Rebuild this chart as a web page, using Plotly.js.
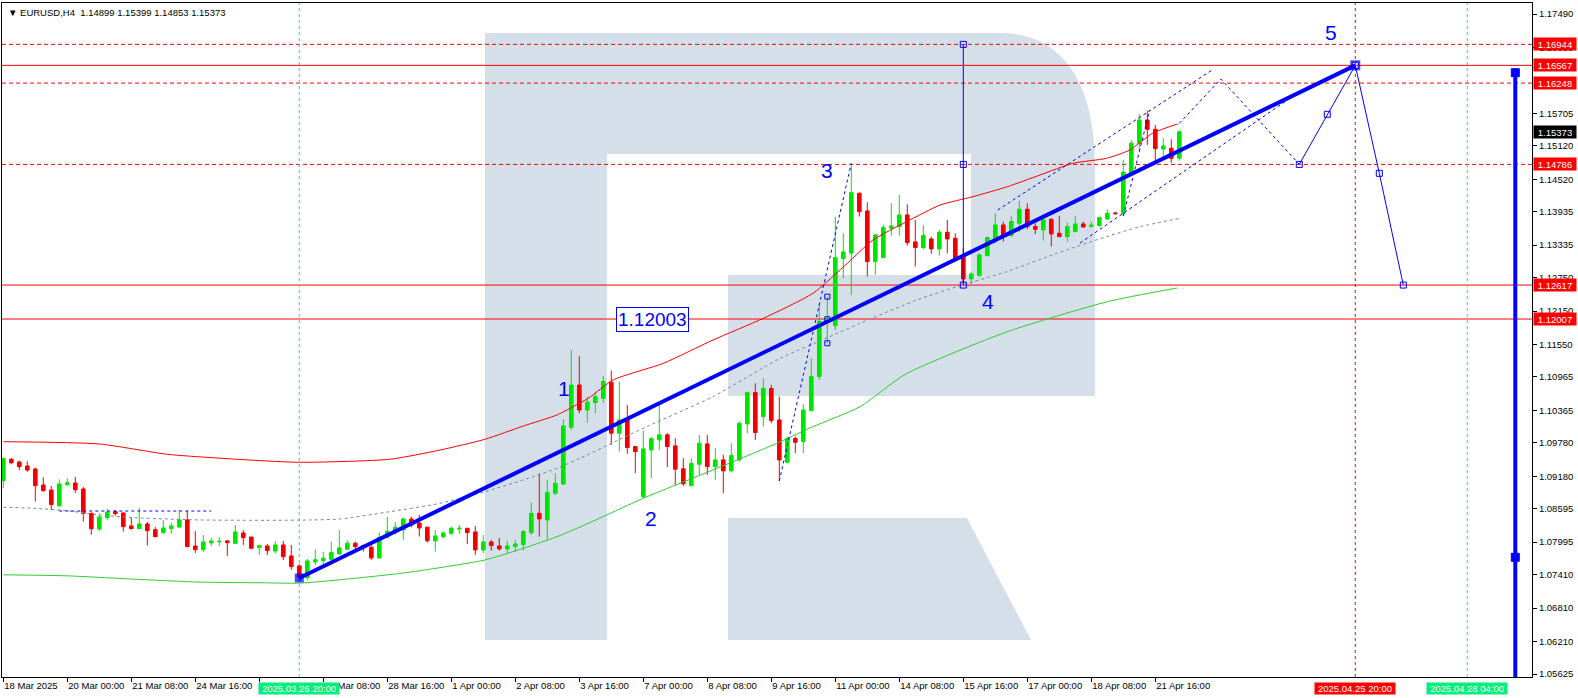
<!DOCTYPE html>
<html>
<head>
<meta charset="utf-8">
<script src="https://cdn.plot.ly/plotly-3.0.1.min.js"></script>
<style>html,body{margin:0;padding:0;background:#fff;}#chart{width:1578px;height:698px;}</style>
</head>
<body>
<div id="chart"></div>
<script>
// ---------------- DATA ----------------
const symbol = "EURUSD,H4";
const opens = [1.09101,1.09484,1.09436,1.09364,1.09310,1.09023,1.08933,1.08651,1.09029,1.09059,
1.08951,1.08514,1.08232,1.08436,1.08544,1.08520,1.08286,1.08238,1.08322,1.08220,
1.08166,1.08238,1.08268,1.08394,1.07927,1.07861,1.07981,1.08005,1.08017,1.07975,
1.08160,1.08088,1.07897,1.07927,1.07837,1.07945,1.07747,1.07567,1.07358,1.07640,
1.07660,1.07688,1.07784,1.07868,1.07976,1.07934,1.07904,1.07712,1.08083,1.08167,
1.08215,1.08412,1.08340,1.08263,1.08017,1.08095,1.08155,1.08233,1.08245,1.08179,
1.07856,1.07999,1.07928,1.07874,1.07916,1.07952,1.08167,1.08514,1.08394,1.08874,
1.09041,1.10060,1.10820,1.10371,1.10505,1.10583,1.10870,1.09954,1.10205,1.09714,
1.08815,1.09654,1.09834,1.09924,1.09726,1.09313,1.09013,1.09396,1.09762,1.09354,
1.09474,1.09277,1.09474,1.10121,1.10684,1.10253,1.10756,1.10193,1.09432,1.09858,
1.09804,1.10361,1.10972,1.11990,1.11888,1.13092,1.13194,1.14267,1.13950,1.13039,
1.13111,1.13638,1.13668,1.13878,1.13393,1.13291,1.13446,1.13267,1.13566,1.13458,
1.13129,1.12728,1.12788,1.13147,1.13416,1.13698,1.13506,1.13728,1.13980,1.13668,
1.13608,1.13800,1.13548,1.13488,1.13578,1.13716,1.13674,1.13686,1.13806,1.13914,
1.13908,1.14626,1.15166,1.15585,1.15417,1.15064,1.15076,1.14899];
const highs = [1.09511,1.09508,1.09460,1.09448,1.09334,1.09161,1.09005,1.09125,1.09143,1.09167,
1.08987,1.08526,1.08514,1.08592,1.08574,1.08532,1.08448,1.08610,1.08358,1.08268,
1.08394,1.08340,1.08574,1.08562,1.08196,1.08124,1.08071,1.08088,1.08035,1.08304,
1.08214,1.08088,1.07951,1.07963,1.08017,1.08017,1.07945,1.07603,1.07693,1.07868,
1.07820,1.08005,1.08215,1.08035,1.08005,1.07952,1.07934,1.08167,1.08454,1.08358,
1.08436,1.08454,1.08484,1.08275,1.08215,1.08185,1.08275,1.08305,1.08250,1.08287,
1.08125,1.08035,1.08071,1.08017,1.08035,1.08215,1.08712,1.09233,1.09113,1.09233,
1.10203,1.11449,1.11341,1.10611,1.10702,1.10984,1.11079,1.10882,1.10463,1.09714,
1.10001,1.09882,1.10493,1.09954,1.09864,1.09504,1.09504,1.09924,1.09924,1.09684,
1.09564,1.09774,1.10163,1.10702,1.10852,1.10942,1.10822,1.10613,1.09894,1.09894,
1.10481,1.11301,1.12278,1.12409,1.13847,1.13548,1.14805,1.14280,1.14105,1.13536,
1.13698,1.14087,1.14237,1.14069,1.13788,1.13698,1.13488,1.13608,1.13788,1.13548,
1.13279,1.12859,1.13189,1.13488,1.13908,1.13758,1.13860,1.14135,1.14087,1.13728,
1.13848,1.13818,1.13860,1.13746,1.13860,1.13758,1.13758,1.13848,1.13980,1.13938,
1.14866,1.15226,1.15693,1.15753,1.15495,1.15256,1.15238,1.15399];
const lows = [1.08963,1.09394,1.09292,1.09263,1.08723,1.08903,1.08574,1.08622,1.09005,1.08879,
1.08364,1.08130,1.08196,1.08394,1.08472,1.08184,1.08220,1.08232,1.07933,1.08088,
1.08148,1.08148,1.08250,1.07905,1.07801,1.07819,1.07927,1.07927,1.07747,1.07963,
1.07945,1.07867,1.07765,1.07765,1.07789,1.07675,1.07495,1.07290,1.07316,1.07580,
1.07600,1.07676,1.07766,1.07856,1.07826,1.07826,1.07676,1.07700,1.08059,1.08131,
1.08035,1.08263,1.08095,1.07987,1.07826,1.08059,1.08125,1.08143,1.07963,1.07766,
1.07796,1.07844,1.07844,1.07796,1.07820,1.07844,1.08125,1.08095,1.08035,1.08844,
1.09020,1.10012,1.10311,1.10143,1.10313,1.10493,1.09744,1.09624,1.09582,1.09235,
1.08785,1.09145,1.09654,1.09343,1.09025,1.09007,1.08995,1.09205,1.09205,1.09115,
1.08875,1.09247,1.09444,1.09954,1.09834,1.10073,1.10133,1.09095,1.09415,1.09594,
1.09594,1.10343,1.10912,1.11571,1.11810,1.12739,1.12439,1.13848,1.12770,1.12800,
1.13099,1.13506,1.13506,1.13327,1.12949,1.13261,1.13177,1.13147,1.13189,1.13069,
1.12640,1.12638,1.12770,1.13129,1.13368,1.13398,1.13488,1.13578,1.13620,1.13536,
1.13416,1.13309,1.13476,1.13398,1.13566,1.13650,1.13650,1.13668,1.13788,1.13878,
1.13860,1.14597,1.15034,1.15136,1.14806,1.14896,1.14818,1.14853];
const closes = [1.09502,1.09424,1.09352,1.09292,1.09011,1.08921,1.08670,1.09041,1.09065,1.08939,
1.08514,1.08238,1.08448,1.08538,1.08508,1.08274,1.08238,1.08322,1.08202,1.08094,
1.08250,1.08286,1.08394,1.07915,1.07861,1.07999,1.08017,1.08011,1.07987,1.08178,
1.08077,1.07885,1.07933,1.07843,1.07945,1.07735,1.07555,1.07364,1.07657,1.07680,
1.07706,1.07808,1.07892,1.07976,1.07916,1.07904,1.07712,1.08083,1.08191,1.08263,
1.08412,1.08304,1.08251,1.08023,1.08107,1.08161,1.08245,1.08245,1.08167,1.07856,
1.07999,1.07934,1.07874,1.07928,1.07963,1.08185,1.08514,1.08412,1.08892,1.09053,
1.10084,1.10820,1.10371,1.10515,1.10613,1.10882,1.09954,1.10193,1.09696,1.09624,
1.09672,1.09858,1.09924,1.09714,1.09307,1.09043,1.09408,1.09774,1.09354,1.09474,
1.09277,1.09552,1.10133,1.10684,1.09966,1.10756,1.10181,1.09474,1.09858,1.09792,
1.10373,1.10972,1.11966,1.12020,1.13110,1.13212,1.14278,1.13938,1.13039,1.13518,
1.13650,1.13680,1.13878,1.13381,1.13291,1.13506,1.13267,1.13566,1.13446,1.13099,
1.12728,1.12817,1.13159,1.13470,1.13698,1.13488,1.13758,1.13980,1.13668,1.13620,
1.13788,1.13536,1.13488,1.13668,1.13716,1.13662,1.13692,1.13830,1.13908,1.13902,
1.14644,1.15166,1.15585,1.15417,1.15070,1.15118,1.14896,1.15373];

// moving-average envelope lines (bar index, price)
const upperBars = [0,12,20.5,28.7,37,48.3,54.6,60.2,65,69.2,71.2,73.3,76.2,82.5,88.7,95,101.2,105.5,108.7,112.9,117.1,121.2,125.5,129.6,133.7,137.9,140.8,143.7,146.8];
const upperVals = [1.09801,1.09760,1.09575,1.09490,1.09431,1.09485,1.09652,1.09844,1.10083,1.10281,1.10430,1.10599,1.10910,1.11210,1.11629,1.12019,1.12469,1.13008,1.13427,1.13756,1.14056,1.14206,1.14385,1.14596,1.14806,1.14896,1.15045,1.15351,1.15513];
const lowerBars = [0,7.9,16.2,24.6,32.9,37.1,49.9,60.2,65,69.2,73.3,80,88.7,96.2,101.2,107.1,112.8,125.4,138,146.7];
const lowerVals = [1.07408,1.07390,1.07331,1.07277,1.07264,1.07259,1.07439,1.07675,1.07885,1.08093,1.08345,1.08784,1.09293,1.09742,1.10071,1.10431,1.11016,1.11773,1.12318,1.12564];
const midBars = [0,3.8,7.9,12.1,16.2,20.4,24.6,32.9,38.3,42.1,48.3,54.6,60.2,65,69.2,72.1,80.4,88.7,97.1,103.3,107.1,114.2,119.2,125.4,131.7,137.9,142.1,147.1];
const midVals = [1.08622,1.08604,1.08561,1.08483,1.08435,1.08412,1.08394,1.08388,1.08394,1.08412,1.08543,1.08694,1.08903,1.09113,1.09323,1.09503,1.10071,1.10610,1.11300,1.11689,1.11930,1.12349,1.12588,1.12857,1.13188,1.13487,1.13666,1.13817];

// time axis
const tickBars = [0,8,16,24,32,40,48,56,64,72,80,88,96,104,112,120,128,136,144];
const tickLabels = ["18 Mar 2025","20 Mar 00:00","21 Mar 08:00","24 Mar 16:00","26 Mar 00:00","27 Mar 08:00","28 Mar 16:00","1 Apr 00:00","2 Apr 08:00","3 Apr 16:00","7 Apr 00:00","8 Apr 08:00","9 Apr 16:00","11 Apr 00:00","14 Apr 08:00","15 Apr 16:00","17 Apr 00:00","18 Apr 08:00","21 Apr 16:00"];
const markedTimeBars = [37,169,183];
const markedTimeLabels = ["2025.03.26 20:00","2025.04.25 20:00","2025.04.28 04:00"];
const markedTimeColors = ["#00f07c","#ff0000","#00f07c"];

// price axis
const priceTicks = [1.17490,1.16890,1.15705,1.15120,1.14520,1.13935,1.13335,1.12750,1.12150,1.11550,1.10965,1.10365,1.09780,1.09180,1.08595,1.07995,1.07410,1.06810,1.06210,1.05625];
const dashedLevels = [1.16944,1.16248,1.14786];
const solidLevels = [1.16567,1.12617,1.12007];
const levelLabels = [1.16944,1.16567,1.16248,1.14786,1.12617,1.12007];
const currentPrice = 1.15373;

// wave analysis drawing
const trendBars = [37,169];
const trendVals = [1.07351,1.16567];
const forecastBars = [162,165.5,169,172,175];
const forecastVals = [1.14786,1.15687,1.16567,1.14626,1.12617];
const subwaveBars = [147,152.2,157.1,162];
const subwaveVals = [1.15525,1.16321,1.15554,1.14786];
const channelUpBars = [124.3,151.1];
const channelUpVals = [1.13966,1.16483];
const channelLowBars = [134.6,162.1];
const channelLowVals = [1.13373,1.16100];
const wave3Bars = [97,106];
const wave3Vals = [1.09095,1.14805];
const wave31Bars = [140,143.3];
const wave31Vals = [1.13860,1.15764];
const flatBars = [7,26];
const flatVals = [1.08555,1.08555];
const measureBars = [120,120,120];
const measureVals = [1.12617,1.14786,1.16944];
const boxBars = [103,103,103];
const boxVals = [1.11571,1.12003,1.12409];
const sideBars = [189,189];
const sideVals = [1.05500,1.16435];
const sideMarkVals = [1.16435,1.07723];
const priceLabelBar = 81.2;
const priceLabelVal = 1.12003;
const waveNames = ["1","2","3","4","5"];
const waveBars = [70.1,81,103,123.1,166];
const waveVals = [1.10749,1.08412,1.14668,1.12313,1.17166];

// ---------------- LAYOUT GEOMETRY ----------------
const PL = 2, PW = 1530, PT = 3, PH = 674;
const yMin = 1.055711, yMax = 1.176878;
const xMin = -0.1625, xMax = 191.0875;
const px = v => (v - PL) / PW;
const py = v => (PT + PH - v) / PH;

function pathFrom(cmds){
  return cmds.map(c => {
    const op = c[0]; const nums = c.slice(1); const out = [];
    for (let i = 0; i < nums.length; i += 2) out.push(px(nums[i]).toFixed(5) + ',' + py(nums[i+1]).toFixed(5));
    return op + out.join(' ');
  }).join(' ') + ' Z';
}
const wmColor = '#d5dfea';
const rBody = pathFrom([['M',485,33],['L',1000,33],['C',1062,33,1095,82,1095,165],['L',1095,396],['L',728,396],['L',728,275],['L',971,275],['L',971,154],['L',607,154],['L',607,640],['L',485,640]]);
const rLeg = pathFrom([['M',728,518],['L',967,518],['L',1031,640],['L',728,640]]);

const BLUE = '#0000ff';
const FONT = 'Liberation Sans, Arial, sans-serif';

const traces = [];
traces.push({type:'scatter', mode:'lines', x:upperBars, y:upperVals, line:{color:'#ff0000', width:1, shape:'spline', smoothing:0.6}, hoverinfo:'skip'});
traces.push({type:'scatter', mode:'lines', x:lowerBars, y:lowerVals, line:{color:'#2ecc2e', width:1, shape:'spline', smoothing:0.6}, hoverinfo:'skip'});
traces.push({type:'scatter', mode:'lines', x:midBars, y:midVals, line:{color:'#778899', width:1, dash:'3px,3px', shape:'spline', smoothing:0.6}, hoverinfo:'skip'});
traces.push({type:'scatter', mode:'lines', x:flatBars, y:flatVals, line:{color:BLUE, width:1, dash:'3px,3px'}, hoverinfo:'skip'});
traces.push({type:'scatter', mode:'lines', x:wave3Bars, y:wave3Vals, line:{color:BLUE, width:1, dash:'3px,3px'}, hoverinfo:'skip'});
traces.push({type:'scatter', mode:'lines', x:wave31Bars, y:wave31Vals, line:{color:BLUE, width:1, dash:'3px,3px'}, hoverinfo:'skip'});
traces.push({type:'scatter', mode:'lines', x:channelUpBars, y:channelUpVals, line:{color:BLUE, width:1, dash:'3px,3px'}, hoverinfo:'skip'});
traces.push({type:'scatter', mode:'lines', x:channelLowBars, y:channelLowVals, line:{color:BLUE, width:1, dash:'3px,3px'}, hoverinfo:'skip'});
traces.push({type:'scatter', mode:'lines', x:subwaveBars, y:subwaveVals, line:{color:BLUE, width:1, dash:'3px,3px'}, hoverinfo:'skip'});
traces.push({type:'scatter', mode:'lines+markers', x:measureBars, y:measureVals, line:{color:BLUE, width:1}, marker:{symbol:'square-open', size:6, color:BLUE, line:{width:1}}, hoverinfo:'skip'});
traces.push({type:'scatter', mode:'lines+markers', x:boxBars, y:boxVals, line:{color:'rgba(0,0,0,0)', width:1}, marker:{symbol:'square-open', size:5, color:BLUE, line:{width:1}}, hoverinfo:'skip'});
traces.push({
  type:'candlestick', x: opens.map((_, i) => i), open:opens, high:highs, low:lows, close:closes,
  increasing:{line:{color:'#00e400', width:1}, fillcolor:'#00e400'},
  decreasing:{line:{color:'#f00000', width:1}, fillcolor:'#f00000'},
  whiskerwidth:0, hoverinfo:'skip'
});
traces.push({type:'scatter', mode:'lines', x:trendBars, y:trendVals, line:{color:BLUE, width:4}, hoverinfo:'skip'});
traces.push({type:'scatter', mode:'lines+markers', x:forecastBars, y:forecastVals, line:{color:BLUE, width:1}, marker:{symbol:'square-open', size:6, color:BLUE, line:{width:1}}, hoverinfo:'skip'});
traces.push({type:'scatter', mode:'markers', x:trendBars, y:trendVals, marker:{symbol:['square','square-open'], size:[7,8], color:BLUE, line:{width:2, color:BLUE}}, hoverinfo:'skip'});
traces.push({type:'scatter', mode:'lines', x:sideBars, y:sideVals, line:{color:BLUE, width:4}, hoverinfo:'skip', cliponaxis:true});
traces.push({type:'scatter', mode:'markers', x:[sideBars[0], sideBars[1]], y:sideMarkVals, marker:{symbol:'square-dot', size:8, color:BLUE, line:{width:1, color:BLUE}}, hoverinfo:'skip'});

const shapes = [];
shapes.push({type:'path', xref:'paper', yref:'paper', path:rBody, fillcolor:wmColor, line:{width:0}, layer:'below'});
shapes.push({type:'path', xref:'paper', yref:'paper', path:rLeg, fillcolor:wmColor, line:{width:0}, layer:'below'});
dashedLevels.forEach(v => shapes.push({type:'line', xref:'paper', x0:0, x1:1, yref:'y', y0:v, y1:v, line:{color:'#ff0000', width:1, dash:'4px,3px'}, layer:'below'}));
solidLevels.forEach(v => shapes.push({type:'line', xref:'paper', x0:0, x1:1, yref:'y', y0:v, y1:v, line:{color:'#ff0000', width:1}, layer:'below'}));
markedTimeBars.forEach((b, i) => shapes.push({type:'line', xref:'x', x0:b, x1:b, yref:'paper', y0:0, y1:1, line:{color: i === 1 ? '#ff0000' : '#22dd88', width:1, dash:'3px,3px'}, layer:'below'}));

const annotations = [];
annotations.push({xref:'paper', yref:'paper', x:0, y:1, xanchor:'left', yanchor:'top', xshift:4, yshift:-2, showarrow:false,
  text:'\u25BC ' + symbol + '\u00a0\u00a0' + [opens[opens.length-1], highs[highs.length-1], lows[lows.length-1], closes[closes.length-1]].map(v => v.toFixed(5)).join(' '),
  font:{family:FONT, size:9.5, color:'#000'}});
levelLabels.forEach(v => annotations.push({xref:'paper', yref:'y', x:1, y:v, xanchor:'left', yanchor:'middle', xshift:1, showarrow:false,
  text:v.toFixed(5), bgcolor:'#ff0000', font:{family:FONT, size:9.5, color:'#fff'}, width:40, height:10, borderpad:1}));
annotations.push({xref:'paper', yref:'y', x:1, y:currentPrice, xanchor:'left', yanchor:'middle', xshift:1, showarrow:false,
  text:currentPrice.toFixed(5), bgcolor:'#000000', font:{family:FONT, size:9.5, color:'#fff'}, width:40, height:10, borderpad:1});
markedTimeBars.forEach((b, i) => annotations.push({xref:'x', yref:'paper', x:b, y:0, xanchor:'center', yanchor:'top', yshift:-5, showarrow:false,
  text:markedTimeLabels[i], bgcolor:markedTimeColors[i], font:{family:FONT, size:9.5, color:'#fff'}, width:78, height:9, borderpad:1}));
waveNames.forEach((t, i) => annotations.push({xref:'x', yref:'y', x:waveBars[i], y:waveVals[i], showarrow:false, text:t,
  font:{family:FONT, size:21, color:BLUE}}));
annotations.push({xref:'x', yref:'y', x:priceLabelBar, y:priceLabelVal, showarrow:false, text:priceLabelVal.toFixed(5),
  font:{family:FONT, size:19, color:BLUE}, bgcolor:'#ffffff', bordercolor:BLUE, borderwidth:1, borderpad:1});

const layout = {
  width:1578, height:698,
  margin:{l:PL, r:1578-PL-PW, t:PT, b:698-PT-PH, pad:0},
  paper_bgcolor:'#ffffff', plot_bgcolor:'#ffffff',
  showlegend:false, boxgap:0.35, hovermode:false,
  xaxis:{range:[xMin,xMax], type:'linear', showgrid:false, zeroline:false, showline:true, linecolor:'#000', linewidth:1, mirror:true,
    ticks:'outside', ticklen:4, tickcolor:'#000', tickvals:tickBars, ticktext:tickLabels, ticklabelposition:'outside right',
    tickangle:0, automargin:false,
    tickfont:{family:FONT, size:9.5, color:'#000'}, rangeslider:{visible:false}, fixedrange:true},
  yaxis:{range:[yMin,yMax], side:'right', showgrid:false, zeroline:false, showline:true, linecolor:'#000', linewidth:1, mirror:true,
    ticks:'outside', ticklen:4, tickcolor:'#000', tickvals:priceTicks, ticktext:priceTicks.map(v => v.toFixed(5)),
    automargin:false, tickfont:{family:FONT, size:9.5, color:'#000'}, fixedrange:true},
  shapes:shapes, annotations:annotations
};
Plotly.newPlot('chart', traces, layout, {staticPlot:true, displayModeBar:false});
</script>
</body>
</html>
